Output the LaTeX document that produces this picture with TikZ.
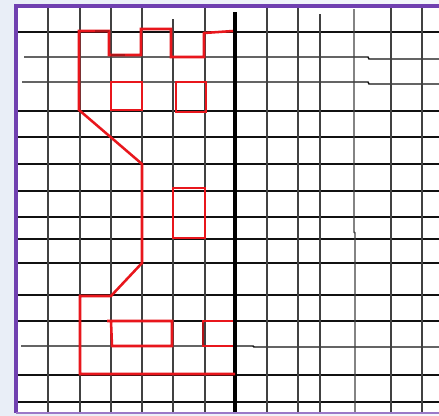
\documentclass[tikz,border=0pt]{standalone}
\usetikzlibrary{calc}
\definecolor{bgc}{HTML}{E9EEF7}
\definecolor{purp}{HTML}{7040B0}
\definecolor{gridc}{HTML}{111111}
\definecolor{redc}{HTML}{E8161C}
\definecolor{darkred}{HTML}{B01418}
\tikzset{
  gl/.style={draw=gridc,line width=1.1pt},
  gl2/.style={draw=gridc!80,line width=1.1pt},
  axis/.style={draw=black,line width=3.2pt},
  redl/.style={draw=redc,line width=1.9pt,line join=miter},
  dredl/.style={draw=darkred,line width=1.9pt},
}
\begin{document}
\begin{tikzpicture}[x=0.75pt,y=-0.75pt]
\useasboundingbox (0,0) rectangle (439,415);
\fill[left color=bgc,right color=white!50!bgc] (0,0) rectangle (439,415);
\fill[white] (16,6) rectangle (439,413);
% horizontal grid lines
\foreach \y in {32,111,137,164,191,217,239,263,295,321,375,402}
  \draw[gl] (16,\y) -- (439,\y);
\draw[gl] (24,57) -- (368,57) -- (369,59) -- (439,59);
\draw[gl] (22,82) -- (368,82) -- (369,84) -- (439,84);
\draw[gl] (21,346) -- (253,346) -- (254,347) -- (439,347);
% vertical grid lines
\foreach \x in {48,80,111,142,205,267,298,391,422}
  \draw[gl2] (\x,6) -- (\x,413);
\draw[gl2] (173,19) -- (173,413);
\draw[gl2] (320,14) -- (320,413);
\draw[gl2] (354,9) -- (354,232) -- (355,233) -- (355,413);
% axis
\draw[axis] (235,12) -- (235,413);
% border
\draw[purp,line width=2.4pt] (16,413) -- (16,6) -- (439,6);
\draw[purp!70,line width=1.4pt] (16,413) -- (439,413);
% red figure outline
\draw[redl] (233,31) -- (204,33) -- (204,57) -- (171,57) -- (171,29) -- (141,29)
  -- (141,55) -- (109,55) -- (109,31) -- (79,31) -- (79,110) -- (142,164)
  -- (142,263) -- (111,296) -- (80,296) -- (80,374) -- (235,374);
\draw[dredl] (111,55) -- (125,55);
\draw[dredl] (95,31) -- (109,31);
% windows top
\draw[redl] (111,82) rectangle (142,110);
\draw[redl] (176,82) rectangle (206,112);
% middle window
\draw[redl] (173,188) rectangle (205,238);
% bottom windows
\draw[redl] (107,321) -- (172,321) -- (172,346) -- (112,346) -- (111,321);
\draw[redl] (233,321) -- (203,321) -- (203,346) -- (233,346);
\draw[dredl] (203,323) -- (203,345);
\end{tikzpicture}
\end{document}
